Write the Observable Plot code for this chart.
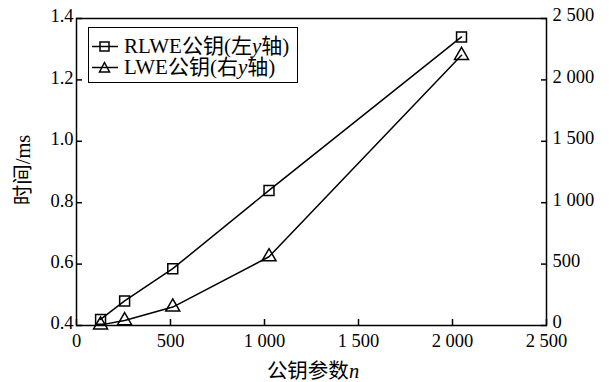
<!DOCTYPE html>
<html>
<head>
<meta charset="utf-8">
<script src="https://cdn.jsdelivr.net/npm/d3@7"></script>
<script src="https://cdn.jsdelivr.net/npm/@observablehq/plot@0.6"></script>
<style>
  html, body { margin: 0; padding: 0; background: #fff; }
  #wrap { position: relative; width: 609px; height: 382px; font-family: "Liberation Serif", "Noto Sans CJK SC", serif; color: #000; }
  #wrap svg text { font-family: "Liberation Serif", "Noto Sans CJK SC", serif; }
  #legend { position: absolute; left: 88px; top: 27px; width: 208px; height: 54px; border: 1.5px solid #000; background: #fff; font-size: 21px; }
  .row { position: absolute; left: 2px; height: 21px; line-height: 21px; display: flex; align-items: center; white-space: nowrap; }
  .row span { line-height: 21px; }
  .row svg { margin-right: 5px; }
</style>
</head>
<body>
<div id="wrap"></div>
<script>
// ---- data ----
const nValues = [128, 256, 512, 1024, 2048];
const rlweTime = [0.42, 0.48, 0.585, 0.84, 1.34];      // left y axis (ms)
const lweTime = [5, 40, 150, 560, 2200];               // right y axis (ms)
const xTicks = [0, 500, 1000, 1500, 2000, 2500];
const leftTicks = [0.4, 0.6, 0.8, 1.0, 1.2, 1.4];
const rightTicks = [0, 500, 1000, 1500, 2000, 2500];
const seriesNames = ["RLWE公钥(左", "LWE公钥(右"];

// map right-axis values onto left scale domain
const leftDomain = [0.4, 1.4];
const rightDomain = [0, 2500];
const toLeft = v => leftDomain[0] + (v - rightDomain[0]) / (rightDomain[1] - rightDomain[0]) * (leftDomain[1] - leftDomain[0]);
const fromLeft = y => rightDomain[0] + (y - leftDomain[0]) / (leftDomain[1] - leftDomain[0]) * (rightDomain[1] - rightDomain[0]);
const fmtThousands = v => {
  v = Math.round(v);
  return v >= 1000 ? `${Math.floor(v / 1000)} ${String(v % 1000).padStart(3, "0")}` : String(v);
};

const rlwe = nValues.map((n, i) => ({n, y: rlweTime[i]}));
const lwe = nValues.map((n, i) => ({n, y: toLeft(lweTime[i])}));

const font = `"Liberation Serif", "Noto Sans CJK SC", serif`;

const chart = Plot.plot({
  width: 609,
  height: 382,
  marginLeft: 76,
  marginRight: 63,
  marginTop: 18,
  marginBottom: 57,
  style: {fontFamily: font, fontSize: "18.5px", color: "#000", background: "#fff"},
  x: {domain: [0, 2500]},
  y: {domain: leftDomain},
  marks: [
    // inward ticks
    Plot.axisX({ticks: xTicks, tickSize: -6, tickFormat: () => "", label: null, strokeWidth: 1.5}),
    Plot.axisY({ticks: leftTicks, tickSize: -6, tickFormat: () => "", label: null, strokeWidth: 1.5}),
    Plot.axisY({anchor: "right", ticks: rightTicks.map(toLeft), tickSize: -6, tickFormat: () => "", label: null, strokeWidth: 1.5}),
    // labels
    Plot.axisX({ticks: xTicks, tickSize: 0, tickPadding: 8, tickFormat: fmtThousands, label: null, fontSize: 18.5}),
    Plot.axisY({ticks: leftTicks, tickSize: 0, tickPadding: 3, tickFormat: d => d.toFixed(1), label: null, fontSize: 18.5, dy: -2}),
    Plot.axisY({anchor: "right", ticks: rightTicks.map(toLeft), tickSize: 0, tickPadding: 6, tickFormat: d => fmtThousands(fromLeft(d)), label: null, fontSize: 18.5, dy: -3}),
    Plot.frame({stroke: "#000", strokeWidth: 1.5}),
    Plot.line(rlwe, {x: "n", y: "y", stroke: "#000", strokeWidth: 1.5}),
    Plot.line(lwe, {x: "n", y: "y", stroke: "#000", strokeWidth: 1.5}),
    Plot.dot(rlwe, {x: "n", y: "y", symbol: "square", r: 5.6, stroke: "#000", fill: "none", strokeWidth: 1.5}),
    Plot.dot(lwe, {x: "n", y: "y", symbol: "triangle", r: 5.2, stroke: "#000", fill: "none", strokeWidth: 1.5})
  ]
});

const wrap = document.getElementById("wrap");
wrap.appendChild(chart);

// axis titles as SVG text
const svg = d3.select(chart);
const xt = svg.append("text")
  .attr("x", 313).attr("y", 378)
  .attr("text-anchor", "middle")
  .attr("font-size", 20.5)
  .attr("fill", "#000");
xt.append("tspan").text("公钥参数");
xt.append("tspan").attr("font-style", "italic").text("n");

svg.append("text")
  .attr("transform", "translate(30,170) rotate(-90)")
  .attr("text-anchor", "middle")
  .attr("font-size", 20.5)
  .attr("fill", "#000")
  .text("时间/ms");

// legend
const legend = document.createElement("div");
legend.id = "legend";
const symSquare = '<rect x="9" y="6" width="9" height="9" fill="none" stroke="#000" stroke-width="1.5"/>';
const symTri = '<path d="M13.5,5.5 L18.5,15 L8.5,15 Z" fill="none" stroke="#000" stroke-width="1.5"/>';
[symSquare, symTri].forEach((sym, i) => {
  const row = document.createElement("div");
  row.className = "row";
  row.style.top = (i === 0 ? 8 : 29) + "px";
  row.innerHTML = `<svg width="28" height="21"><line x1="1" y1="10.5" x2="27" y2="10.5" stroke="#000" stroke-width="1.5"/>${sym}</svg><span>${seriesNames[i]}<i>y</i>轴)</span>`;
  legend.appendChild(row);
});
wrap.appendChild(legend);
</script>
</body>
</html>
